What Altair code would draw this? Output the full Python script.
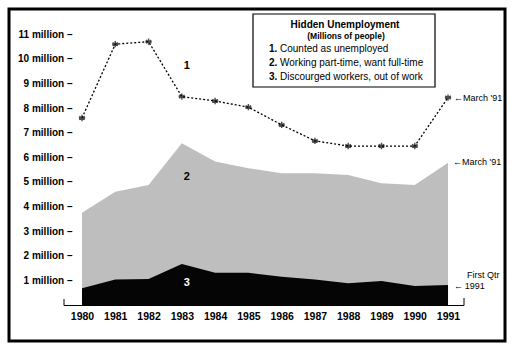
import altair as alt
import pandas as pd

years = [1980, 1981, 1982, 1983, 1984, 1985, 1986, 1987, 1988, 1989, 1990, 1991]
counted = [7.6, 10.6, 10.7, 8.47, 8.29, 8.04, 7.32, 6.67, 6.46, 6.46, 6.46, 8.43]
part_time = [3.07, 3.56, 3.82, 4.90, 4.52, 4.25, 4.20, 4.31, 4.40, 3.97, 4.11, 4.97]
discouraged = [0.68, 1.04, 1.06, 1.67, 1.31, 1.31, 1.15, 1.04, 0.88, 0.98, 0.77, 0.81]

legend_title = "Hidden Unemployment"
legend_sub = "(Millions of  people)"
legend_nums = ["1.", "2.", "3."]
legend_items = ["Counted as unemployed", "Working part-time, want full-time",
                "Discourged workers, out of work"]

FONT = "Liberation Sans"

df = pd.DataFrame({
    "year": years,
    "counted": counted,
    "part": part_time,
    "disc": discouraged,
})
df["total"] = df["part"] + df["disc"]

xs = alt.Scale(domain=[1979.82, 1991.48], nice=False, zero=False)
ys = alt.Scale(domain=[0, 11.5], nice=False)

x_axis = alt.Axis(
    values=years, format="d", title=None, grid=False, ticks=False, domain=False,
    labelFont=FONT, labelFontWeight="bold", labelFontSize=10.5, labelColor="black",
    labelPadding=6, labelFlush=False, labelOverlap=False)
y_axis = alt.Axis(
    values=list(range(1, 12)), title=None, grid=False, ticks=False, domain=False,
    labelExpr="datum.value + ' million \u2013'",
    labelFont=FONT, labelFontWeight="bold", labelFontSize=10, labelColor="black",
    labelPadding=4, labelOverlap=False)

def X(field):
    return alt.X(field, scale=xs, title=None, axis=x_axis)

def Y(field):
    return alt.Y(field, scale=ys, title=None, axis=y_axis)

base = alt.Chart(df)

grey = base.mark_area(color="#bebebe", interpolate="linear").encode(
    x=X("year:Q"), y=Y("total:Q"), y2=alt.datum(0),
)

black = base.mark_area(color="#050505", interpolate="linear").encode(
    x=X("year:Q"), y=Y("disc:Q"), y2=alt.datum(0),
)

line = base.mark_line(color="black", strokeDash=[2, 2], strokeWidth=1.3).encode(
    x=X("year:Q"), y=Y("counted:Q"),
)

star = "M0,-1L0,1M-0.87,-0.5L0.87,0.5M-0.87,0.5L0.87,-0.5M-1,0L1,0"
pts = base.mark_point(shape=star, filled=False, stroke="black", strokeWidth=1.4, size=40).encode(
    x=X("year:Q"), y=Y("counted:Q"),
)

# axis baseline with end brackets
one = pd.DataFrame({"a": [0]})
baseline = alt.Chart(one).mark_rule(color="black", strokeWidth=1).encode(
    x=alt.value(-12), x2=alt.value(388), y=alt.value(283.5))
tickL = alt.Chart(one).mark_rule(color="black", strokeWidth=1).encode(
    x=alt.value(-12), y=alt.value(277), y2=alt.value(283.5))
tickR = alt.Chart(one).mark_rule(color="black", strokeWidth=1).encode(
    x=alt.value(388), y=alt.value(276), y2=alt.value(283.5))

# series number labels
lab = pd.DataFrame({"t": ["1", "2", "3"], "x": [1983.15, 1983.15, 1983.15],
                    "y": [9.7, 5.2, 0.88], "c": ["black", "black", "white"]})
nums = alt.Chart(lab).mark_text(font=FONT, fontSize=11, fontWeight="bold").encode(
    x=X("x:Q"), y=Y("y:Q"),
    text="t:N", color=alt.Color("c:N", scale=None))

# right annotations anchored to 1991 values
last = df[df["year"] == 1991]
ann1 = alt.Chart(last).mark_text(font=FONT, fontSize=9, align="left", dx=6).encode(
    x=X("year:Q"), y=Y("counted:Q"),
    text=alt.value("\u2190March '91"))
ann2 = alt.Chart(last).mark_text(font=FONT, fontSize=9, align="left", dx=5, dy=-1).encode(
    x=X("year:Q"), y=Y("total:Q"),
    text=alt.value("\u2190March '91"))
ann3 = alt.Chart(one).mark_text(font=FONT, fontSize=9, align="left").encode(
    x=alt.value(391), y=alt.value(253), text=alt.value("First Qtr"))
ann4 = alt.Chart(one).mark_text(font=FONT, fontSize=9, align="left").encode(
    x=alt.value(378), y=alt.value(264), text=alt.value("\u2190\u20091991"))

# legend box
box = alt.Chart(one).mark_rect(fill="white", stroke="black", strokeWidth=1.2).encode(
    x=alt.value(177), x2=alt.value(359), y=alt.value(-8), y2=alt.value(65))
t1 = alt.Chart(one).mark_text(font=FONT, fontSize=10, fontWeight="bold").encode(
    x=alt.value(269), y=alt.value(3), text=alt.value(legend_title))
t2 = alt.Chart(one).mark_text(font=FONT, fontSize=8.5, fontWeight="bold").encode(
    x=alt.value(270), y=alt.value(13.5), text=alt.value(legend_sub))
legend_layers = []
for i, (n, t) in enumerate(zip(legend_nums, legend_items)):
    yy = 27 + 14 * i
    legend_layers.append(alt.Chart(one).mark_text(
        font=FONT, fontSize=10, fontWeight="bold", align="left").encode(
        x=alt.value(193), y=alt.value(yy), text=alt.value(n)))
    legend_layers.append(alt.Chart(one).mark_text(
        font=FONT, fontSize=10, align="left").encode(
        x=alt.value(204), y=alt.value(yy), text=alt.value(t)))

frame = alt.Chart(one).mark_rect(fill=None, stroke="black", strokeWidth=3).encode(
    x=alt.value(-67), x2=alt.value(429), y=alt.value(-13), y2=alt.value(319))

chart = alt.layer(
    grey, black, baseline, tickL, tickR, line, pts, nums, ann1, ann2, ann3, ann4,
    box, t1, t2, *legend_layers, frame
).properties(
    width=388, height=283,
    autosize=alt.AutoSizeParams(type="none"),
    padding={"left": 76, "top": 22, "right": 54, "bottom": 49},
    background="white",
).configure_view(stroke=None).configure_axis(labelOverlap=False)

chart.save("out.html", embed_options={"renderer": "svg", "actions": False})
